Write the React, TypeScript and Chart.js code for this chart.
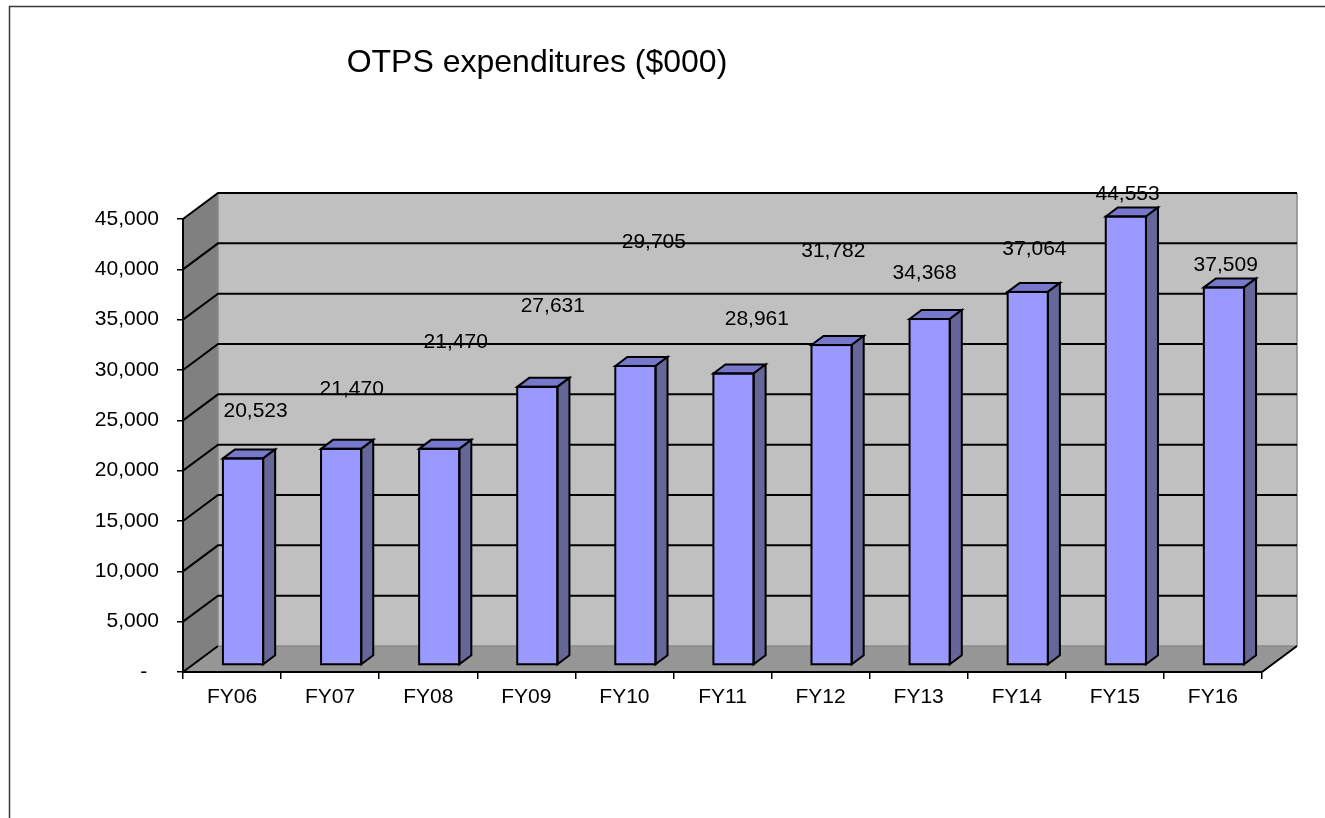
import React, { useEffect, useRef } from 'react';
import { Chart, registerables } from 'chart.js';

Chart.register(...registerables);

// ---- data ----
const TITLE = 'OTPS expenditures ($000)';
const CATEGORIES = ['FY06', 'FY07', 'FY08', 'FY09', 'FY10', 'FY11', 'FY12', 'FY13', 'FY14', 'FY15', 'FY16'];
const VALUES = [20523, 21470, 21470, 27631, 29705, 28961, 31782, 34368, 37064, 44553, 37509];
const Y_MIN = 0;
const Y_MAX = 45000;
const Y_STEP = 5000;

// ---- label placement as in the reference (value level, shift in category widths) ----
const LABEL_LEVELS = [25860, 28110, 32730, 36380, 42670, 35070, 41820, 39640, 42020, 47480, 40430];
const LABEL_SHIFT = [0.24, 0.22, 0.28, 0.27, 0.3, 0.35, 0.13, 0.06, 0.18, 0.13, 0.13];

// ---- styling ----
const FONT = '"Liberation Sans", Arial, Helvetica, sans-serif';
const WALL_DX = 35;
const WALL_DY = -26;
const BAR_DX = 12;
const BAR_DY = -9;
const BAR_OFF_X = 11;
const BAR_OFF_Y = -7;

const fmt = (v: number) => v.toLocaleString('en-US');

const threeD = {
  id: 'threeD',
  beforeDraw(chart: any) {
    const { ctx, chartArea: a, scales } = chart;
    const y = scales.y;
    ctx.save();
    // outer frame
    ctx.strokeStyle = '#3a3a3a';
    ctx.lineWidth = 1.5;
    ctx.strokeRect(9.5, 6.5, chart.width + 40, chart.height + 40);
    // title
    ctx.fillStyle = '#000';
    ctx.font = `32px ${FONT}`;
    ctx.textAlign = 'center';
    ctx.textBaseline = 'alphabetic';
    ctx.fillText(TITLE, 537, 72);

    const L = a.left, R = a.right, T = a.top, B = a.bottom;
    // back wall
    ctx.fillStyle = '#c0c0c0';
    ctx.fillRect(L + WALL_DX, T + WALL_DY, R - L, B - T);
    // left wall
    ctx.fillStyle = '#808080';
    ctx.beginPath();
    ctx.moveTo(L, T);
    ctx.lineTo(L + WALL_DX, T + WALL_DY);
    ctx.lineTo(L + WALL_DX, B + WALL_DY);
    ctx.lineTo(L, B);
    ctx.closePath();
    ctx.fill();
    // floor
    ctx.fillStyle = '#969696';
    ctx.beginPath();
    ctx.moveTo(L, B);
    ctx.lineTo(R, B);
    ctx.lineTo(R + WALL_DX, B + WALL_DY);
    ctx.lineTo(L + WALL_DX, B + WALL_DY);
    ctx.closePath();
    ctx.fill();
    // light edges
    ctx.strokeStyle = '#8a8a8a';
    ctx.lineWidth = 1.5;
    ctx.beginPath();
    ctx.moveTo(L + WALL_DX, B + WALL_DY);
    ctx.lineTo(R + WALL_DX, B + WALL_DY);
    ctx.moveTo(R + WALL_DX, T + WALL_DY);
    ctx.lineTo(R + WALL_DX, B + WALL_DY);
    ctx.moveTo(L + WALL_DX, T + WALL_DY);
    ctx.lineTo(L + WALL_DX, B + WALL_DY);
    ctx.stroke();
    // gridlines
    ctx.strokeStyle = '#000';
    ctx.lineWidth = 2;
    ctx.lineJoin = 'miter';
    for (let v = Y_MIN + Y_STEP; v <= Y_MAX; v += Y_STEP) {
      const py = y.getPixelForValue(v);
      ctx.beginPath();
      ctx.moveTo(L, py);
      ctx.lineTo(L + WALL_DX, py + WALL_DY);
      ctx.lineTo(R + WALL_DX, py + WALL_DY);
      ctx.stroke();
    }
    // floor diagonals
    ctx.beginPath();
    ctx.moveTo(L, B);
    ctx.lineTo(L + WALL_DX, B + WALL_DY);
    ctx.moveTo(R, B);
    ctx.lineTo(R + WALL_DX, B + WALL_DY);
    ctx.stroke();
    ctx.restore();
  },
  beforeDatasetDraw(chart: any) {
    chart.ctx.save();
    chart.ctx.translate(BAR_OFF_X, BAR_OFF_Y);
  },
  afterDatasetDraw(chart: any, args: any) {
    const ctx = chart.ctx;
    const meta = args.meta;
    ctx.lineWidth = 2;
    ctx.lineJoin = 'miter';
    ctx.strokeStyle = '#000';
    meta.data.forEach((el: any) => {
      const { x, y, base, width } = el.getProps(['x', 'y', 'base', 'width'], true);
      const l = x - width / 2;
      const r = x + width / 2;
      // top face
      ctx.fillStyle = '#7777cc';
      ctx.beginPath();
      ctx.moveTo(l, y);
      ctx.lineTo(l + BAR_DX, y + BAR_DY);
      ctx.lineTo(r + BAR_DX, y + BAR_DY);
      ctx.lineTo(r, y);
      ctx.closePath();
      ctx.fill();
      ctx.stroke();
      // side face
      ctx.fillStyle = '#666699';
      ctx.beginPath();
      ctx.moveTo(r, y);
      ctx.lineTo(r + BAR_DX, y + BAR_DY);
      ctx.lineTo(r + BAR_DX, base + BAR_DY);
      ctx.lineTo(r, base);
      ctx.closePath();
      ctx.fill();
      ctx.stroke();
      // front outline
      ctx.strokeRect(l, y, width, base - y);
    });
    ctx.restore();
  },
  afterDatasetsDraw(chart: any) {
    const { ctx, scales } = chart;
    const xs = scales.x;
    const ys = scales.y;
    const catW = (chart.chartArea.right - chart.chartArea.left) / CATEGORIES.length;
    ctx.save();
    ctx.fillStyle = '#000';
    ctx.font = `21px ${FONT}`;
    ctx.textAlign = 'center';
    ctx.textBaseline = 'middle';
    VALUES.forEach((v, i) => {
      const px = xs.getPixelForValue(i) + LABEL_SHIFT[i] * catW;
      const py = ys.getPixelForValue(LABEL_LEVELS[i]);
      ctx.fillText(fmt(v), px, py);
    });
    ctx.restore();
  },
};

export default function App() {
  const ref = useRef<HTMLCanvasElement>(null);
  useEffect(() => {
    const chart = new Chart(ref.current as HTMLCanvasElement, {
      type: 'bar',
      data: {
        labels: CATEGORIES,
        datasets: [
          {
            data: VALUES,
            backgroundColor: '#9999ff',
            borderColor: '#000',
            borderWidth: 0,
            borderSkipped: false,
            barPercentage: 0.41,
            categoryPercentage: 1,
            clip: false as any,
          },
        ],
      },
      options: {
        responsive: false,
        animation: false,
        devicePixelRatio: 1,
        layout: { padding: { top: 219, right: 63, left: 0, bottom: 0 } },
        plugins: { legend: { display: false }, tooltip: { enabled: false }, title: { display: false } },
        scales: {
          x: {
            offset: true,
            grid: { drawOnChartArea: false, drawTicks: true, offset: true, tickLength: 7, color: '#000', lineWidth: 1.5 },
            border: { display: true, color: '#000', width: 2 },
            ticks: { color: '#000', font: { family: FONT, size: 21 }, padding: 6, maxRotation: 0, autoSkip: false },
            afterFit: (s: any) => { s.height = 146; },
          },
          y: {
            min: Y_MIN,
            max: Y_MAX,
            grid: { drawOnChartArea: false, drawTicks: true, tickLength: 6, color: '#000', lineWidth: 1.5 },
            border: { display: true, color: '#000', width: 2 },
            ticks: {
              stepSize: Y_STEP,
              color: '#000',
              font: { family: FONT, size: 21 },
              padding: 18,
              callback: (v: any) => (Number(v) === 0 ? '-  ' : fmt(Number(v))),
            },
            afterFit: (s: any) => { s.width = 183; },
          },
        },
      },
      plugins: [threeD],
    });
    return () => chart.destroy();
  }, []);
  return (
    <div style={{ position: 'absolute', left: 0, top: 0, width: 1325, height: 818, background: '#fff' }}>
      <canvas ref={ref} width={1325} height={818} style={{ display: 'block' }} />
    </div>
  );
}
